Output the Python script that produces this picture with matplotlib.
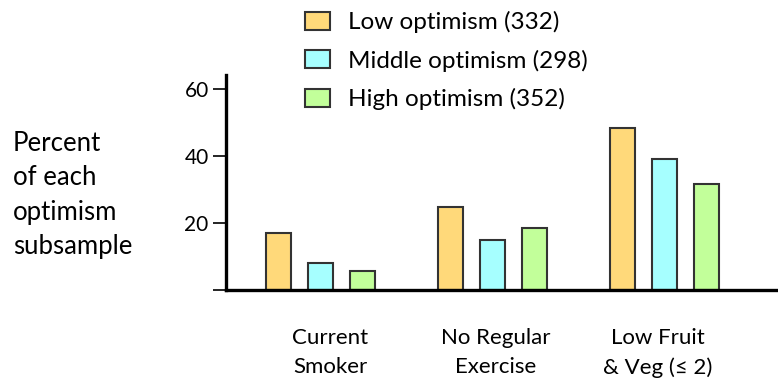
import matplotlib
matplotlib.use("Agg")
import matplotlib.pyplot as plt
import numpy as np

categories = ["Current\nSmoker", "No Regular\nExercise", "Low Fruit\n& Veg (≤ 2)"]
series_names = ["Low optimism (332)", "Middle optimism (298)", "High optimism (352)"]
low = [17.1, 24.9, 48.5]
middle = [8.0, 14.8, 39.0]
high = [5.8, 18.5, 31.8]
yticks = [0, 20, 40, 60]
ytick_labels = ["", "20", "40", "60"]
colors = ["#FFD97A", "#A6FFFF", "#C2FF9A"]

plt.rcParams['font.family'] = ['Lato', 'DejaVu Sans']

W, H = 778, 386
fig = plt.figure(figsize=(W / 100, H / 100), dpi=100)
ax = fig.add_axes([226 / W, (H - 290) / H, (W - 226) / W, (290 - 75) / H])

x = np.arange(len(categories))
offset = 0.244
width = 0.145
handles = []
for i, (vals, name, c) in enumerate(zip([low, middle, high], series_names, colors)):
    b = ax.bar(x + (i - 1) * offset, vals, width, color=c, edgecolor="#333333",
               linewidth=1.5, label=name, zorder=2)
    handles.append(b)

ax.set_xlim(-0.547, 2.657)
ax.set_ylim(0, 64.2)
ax.set_yticks(yticks)
ax.set_yticklabels(ytick_labels, fontsize=15)
label_shift = np.array([0.058, 0.02, -0.04])
ax.set_xticks(x + label_shift)
ax.set_xticklabels(categories, fontsize=16, linespacing=1.6)
ax.tick_params(axis='x', length=0, pad=27)
ax.tick_params(axis='y', length=9.5, width=1.2, pad=3)
for s in ["top", "right"]:
    ax.spines[s].set_visible(False)
for s in ["left", "bottom"]:
    ax.spines[s].set_linewidth(2.4)
    ax.spines[s].set_color("black")
ax.spines["bottom"].set_zorder(3)

fig.text(13 / W, 1 - 131 / H, "Percent\nof each\noptimism\nsubsample", fontsize=18.5,
         ha="left", va="top", linespacing=1.47)

leg = fig.legend(handles=handles, labels=series_names, loc="upper left",
                 bbox_to_anchor=(305 / W, 1 - 11 / H), frameon=False, fontsize=17.5,
                 handlelength=1.03, handleheight=0.75, labelspacing=0.68,
                 handletextpad=0.75, borderpad=0, borderaxespad=0)

fig.savefig("out.png", dpi=100)
